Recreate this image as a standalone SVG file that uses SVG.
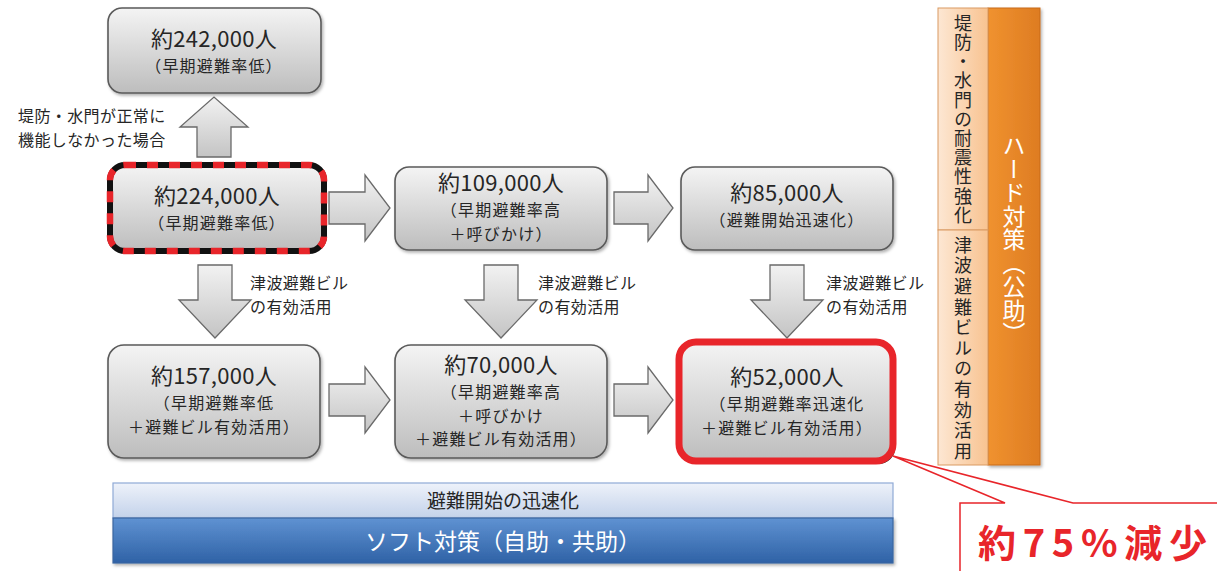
<svg xmlns="http://www.w3.org/2000/svg" width="1217" height="571" viewBox="0 0 1217 571">
<defs>
<linearGradient id="gBox" x1="0" y1="0" x2="0" y2="1">
<stop offset="0" stop-color="#f4f4f4"/><stop offset="1" stop-color="#bdbdbd"/>
</linearGradient>
<linearGradient id="gArrow" x1="0" y1="0" x2="0" y2="1">
<stop offset="0" stop-color="#f2f2f2"/><stop offset="1" stop-color="#c4c4c4"/>
</linearGradient>
<linearGradient id="gLight" x1="0" y1="0" x2="0" y2="1">
<stop offset="0" stop-color="#eef2fa"/><stop offset="1" stop-color="#c3d2ea"/>
</linearGradient>
<linearGradient id="gBlue" x1="0" y1="0" x2="0" y2="1">
<stop offset="0" stop-color="#5f92d2"/><stop offset="1" stop-color="#2f62a6"/>
</linearGradient>
<linearGradient id="gLOr" x1="0" y1="0" x2="1" y2="0">
<stop offset="0" stop-color="#fde7d3"/><stop offset="1" stop-color="#f8c391"/>
</linearGradient>
<linearGradient id="gDOr" x1="0" y1="0" x2="1" y2="0">
<stop offset="0" stop-color="#f0922f"/><stop offset="1" stop-color="#de7c22"/>
</linearGradient>
<filter id="sh" x="-10%" y="-10%" width="125%" height="130%">
<feDropShadow dx="1.5" dy="2" stdDeviation="1.5" flood-color="#000" flood-opacity="0.3"/>
</filter>
</defs>
<style>
.box{fill:url(#gBox);stroke:#5a5a5a;stroke-width:1.6;filter:url(#sh)}
.arr{fill:url(#gArrow);stroke:#6a6a6a;stroke-width:1.3}
.t{font-family:"Noto Sans CJK JP","Noto Sans",sans-serif;fill:#262626;text-anchor:middle}
.m{font-size:22px;letter-spacing:0.3px}
.s{font-size:16px;letter-spacing:1.2px}
.lb{font-family:"Noto Sans CJK JP","Noto Sans",sans-serif;fill:#262626;font-size:16px;letter-spacing:0.4px}
.v{font-family:"Noto Sans CJK JP","Noto Sans",sans-serif;writing-mode:vertical-rl}
</style>
<rect width="1217" height="571" fill="#ffffff"/>

<g id="connectors">
<polygon class="arr" points="197,157 197,127 180,127 214,97 248,127 231,127 231,157"/>
<polygon class="arr" points="329,192 365,192 365,175 390,208 365,241 365,224 329,224"/>
<polygon class="arr" points="614,192 648,192 648,175 673,208 648,241 648,224 614,224"/>
<polygon class="arr" points="329,384 365,384 365,367 390,400 365,433 365,416 329,416"/>
<polygon class="arr" points="614,384 648,384 648,367 673,400 648,433 648,416 614,416"/>
<polygon class="arr" points="198,265 232,265 232,300 251,300 215,338 179,300 198,300"/>
<polygon class="arr" points="484,265 518,265 518,300 537,300 501,338 465,300 484,300"/>
<polygon class="arr" points="770,265 804,265 804,300 823,300 787,338 751,300 770,300"/>
</g>

<g id="label-up">
<text class="lb" x="18" y="122">堤防・水門が正常に</text>
<text class="lb" x="18" y="146">機能しなかった場合</text>
</g>
<g id="labels-down">
<text class="lb" x="250" y="289">津波避難ビル</text>
<text class="lb" x="250" y="313">の有効活用</text>
<text class="lb" x="538" y="289">津波避難ビル</text>
<text class="lb" x="538" y="313">の有効活用</text>
<text class="lb" x="826" y="289">津波避難ビル</text>
<text class="lb" x="826" y="313">の有効活用</text>
</g>

<g id="n242">
<rect class="box" x="108" y="8" width="213" height="85" rx="14"/>
<text class="t m" x="214" y="47">約242,000人</text>
<text class="t s" x="214" y="72">（早期避難率低）</text>
</g>

<g id="n224">
<rect x="110" y="165" width="214" height="86" rx="15" fill="url(#gBox)"/>
<rect x="110" y="165" width="214" height="86" rx="15" fill="none" stroke="#111" stroke-width="6"/>
<rect x="110" y="165" width="214" height="86" rx="15" fill="none" stroke="#e8252a" stroke-width="6.5" stroke-dasharray="11 11"/>
<text class="t m" x="217" y="204">約224,000人</text>
<text class="t s" x="217" y="229">（早期避難率低）</text>
</g>

<g id="n109">
<rect class="box" x="395" y="167" width="212" height="83" rx="14"/>
<text class="t m" x="501" y="191">約109,000人</text>
<text class="t s" x="501" y="216">（早期避難率高</text>
<text class="t s" x="501" y="239.5">＋呼びかけ）</text>
</g>

<g id="n85">
<rect class="box" x="681" y="167" width="212" height="83" rx="14"/>
<text class="t m" x="787" y="201">約85,000人</text>
<text class="t s" x="787" y="226">（避難開始迅速化）</text>
</g>

<g id="n157">
<rect class="box" x="108" y="345" width="212" height="113" rx="16"/>
<text class="t m" x="214" y="384">約157,000人</text>
<text class="t s" x="214" y="409">（早期避難率低</text>
<text class="t s" x="214" y="432.5">＋避難ビル有効活用）</text>
</g>

<g id="n70">
<rect class="box" x="395" y="345" width="212" height="113" rx="16"/>
<text class="t m" x="501" y="373">約70,000人</text>
<text class="t s" x="501" y="398">（早期避難率高</text>
<text class="t s" x="501" y="421.5">＋呼びかけ</text>
<text class="t s" x="501" y="445">＋避難ビル有効活用）</text>
</g>

<g id="n52">
<rect x="679" y="342" width="214" height="119" rx="17" fill="#222" transform="translate(2.5,3)"/>
<rect x="679" y="342" width="214" height="119" rx="17" fill="url(#gBox)" stroke="#e8252a" stroke-width="7"/>
<text class="t m" x="787" y="385">約52,000人</text>
<text class="t s" x="787" y="410">（早期避難率迅速化</text>
<text class="t s" x="787" y="433.5">＋避難ビル有効活用）</text>
</g>

<g id="soft">
<rect x="113" y="483" width="780" height="35" fill="url(#gLight)" stroke="#8faad6" stroke-width="1.2"/>
<text class="t" x="503" y="508" font-size="19">避難開始の迅速化</text>
<rect x="113" y="518" width="780" height="45" fill="url(#gBlue)" stroke="#3a66a0" stroke-width="1.2" filter="url(#sh)"/>
<text class="t" x="503" y="550" font-size="23" style="fill:#ffffff">ソフト対策（自助・共助）</text>
</g>

<g id="hard">
<rect x="988" y="8" width="52" height="457" fill="url(#gDOr)" stroke="#c86a1a" stroke-width="1" filter="url(#sh)"/>
<rect x="938" y="8" width="50" height="222" fill="url(#gLOr)" stroke="#d99a62" stroke-width="1"/>
<rect x="938" y="230" width="50" height="235" fill="url(#gLOr)" stroke="#d99a62" stroke-width="1"/>
<text class="v" x="963" y="14" font-size="18" letter-spacing="1.2" fill="#262626">堤防・水門の耐震性強化</text>
<text class="v" x="963" y="236" font-size="18" letter-spacing="2.6" fill="#262626">津波避難ビルの有効活用</text>
<text class="v" x="1014" y="134" font-size="23" letter-spacing="0.5" fill="#ffffff">ハード対策（公助）</text>
</g>

<g id="callout">
<path d="M1217,503 L1073,503 L893,456 L1005,503 L960,503 L960,571 L1217,571 Z" fill="#ffffff" stroke="none"/>
<path d="M1217,503 L1073,503 L893,456 L1005,503 L960,503 L960,571" fill="none" stroke="#e8252a" stroke-width="1.5"/>
<text x="978" y="557" font-family="'Noto Sans CJK JP','Noto Sans',sans-serif" font-size="38" font-weight="bold" fill="#e8252a" textLength="229" lengthAdjust="spacing">約75%減少</text>
</g>
</svg>
